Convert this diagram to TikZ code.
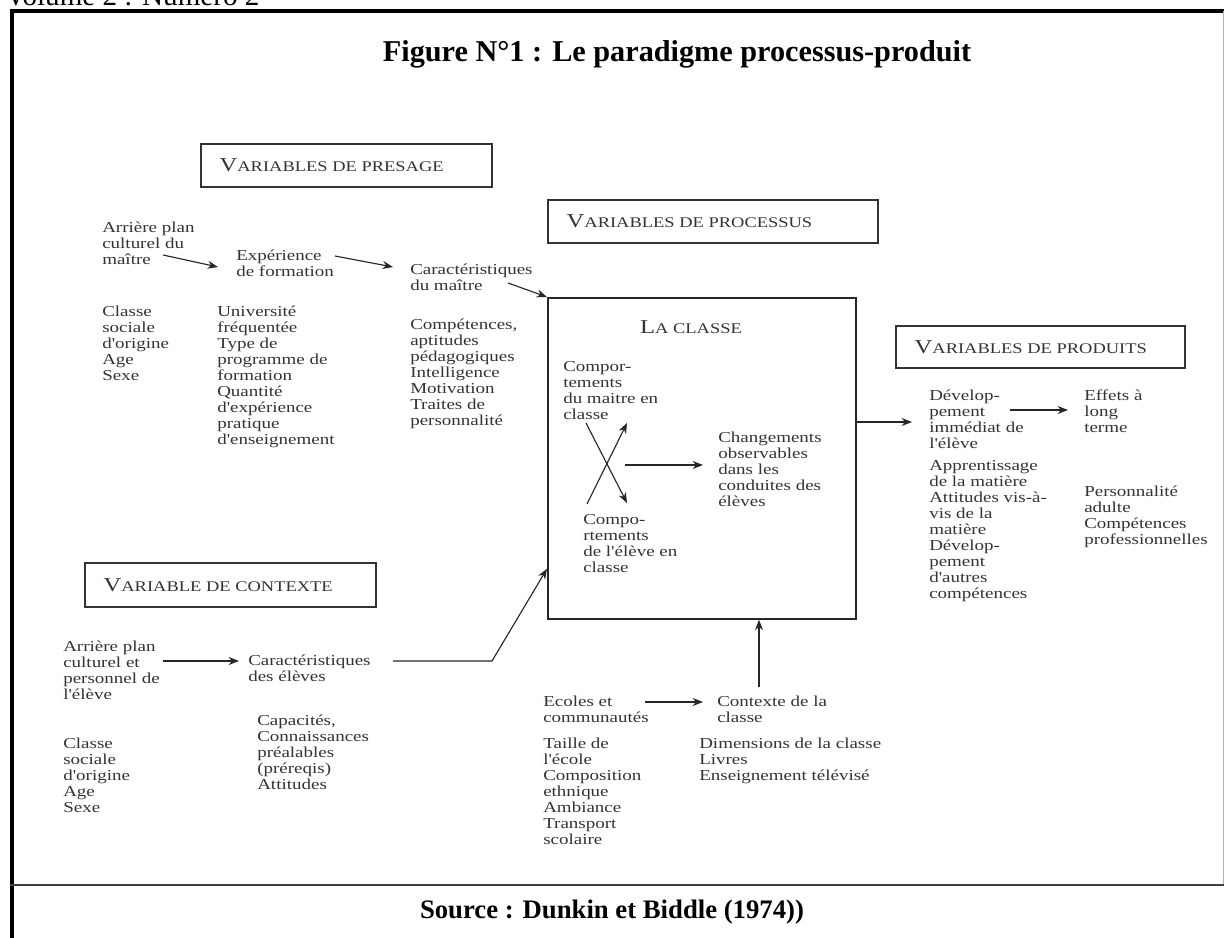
\documentclass[tikz,border=0pt]{standalone}
\usepackage{fontspec}
\setmainfont{Liberation Serif}
\newfontfamily\diagfont{Liberation Serif}[FakeStretch=1.25]
\usetikzlibrary{arrows.meta}
\newcommand{\bigsc}[2]{{\fontsize{14}{14}\selectfont #1}{\fontsize{10.5}{12}\selectfont #2}}

\begin{document}
\begin{tikzpicture}[x=0.025cm, y=-0.025cm,
  txt/.style={anchor=north west, align=left, inner sep=0pt, text=black!80,
    font=\diagfont\fontsize{10.8}{11.38}\selectfont},
  varbox/.style={draw=black!80, line width=1.2pt, anchor=north west, inner xsep=0.47cm,
    inner ysep=0pt, align=left, text=black!80, font=\diagfont},
  arr/.style={-{Stealth[length=2.6mm,width=2mm]}, line width=0.8pt, black!85}]
\useasboundingbox (0,0) rectangle (1224,938);
\clip (0,0) rectangle (1224,938);

\node[anchor=base west, inner sep=0pt] (volume) at (5,6) {\fontsize{20.7}{24}\selectfont Volume 2 : Numéro 2};
\draw[line width=2.2pt] (12,945) -- (12,11) -- (1230,11);
\draw[line width=0.4pt, black!30] (1223,11) -- (1223,885);
\draw[line width=1pt, black!75] (10,885) -- (1230,885);

\node (titre) at (677,54) {\fontsize{21.5}{24}\selectfont\bfseries Figure N°1 : Le paradigme processus-produit};
\node (source) at (612,912) {\fontsize{19}{22}\selectfont\bfseries Source : Dunkin et Biddle (1974))};

\foreach \nm/\px/\py/\w/\h/\first/\rest in {presage/200/143/6.335/1.075/V/ARIABLES DE PRESAGE,
    processus/547/199/7.31/1.075/V/ARIABLES DE PROCESSUS,
    produits/895/325/6.285/1.05/V/ARIABLES DE PRODUITS,
    contexte/84/562/6.335/1.1/V/ARIABLE DE CONTEXTE} {%
    \node[varbox, text width=\w cm, minimum height=\h cm] (\nm) at (\px,\py) {\bigsc{\first}{\rest}};
}

\node[draw=black!85, line width=1.2pt, anchor=north west, minimum width=7.7cm,
  minimum height=8.025cm, inner sep=0pt] (classe) at (547,297) {};
\node[inner sep=0pt, text=black!80, font=\diagfont] (lacl) at (691,327) {\bigsc{L}{A CLASSE}};

\node[txt] (apm) at (102,222) {Arrière plan\\culturel du\\maître};
\node[txt] (expf) at (236,250) {Expérience\\de formation};
\node[txt] (carm) at (410,264) {Caractéristiques\\du maître};
\node[txt] (clsm) at (102,306) {Classe\\sociale\\d'origine\\Age\\Sexe};
\node[txt] (univ) at (217,306) {Université\\fréquentée\\Type de\\programme de\\formation\\Quantité\\d'expérience\\pratique\\d'enseignement};
\node[txt] (comp) at (410,319) {Compétences,\\aptitudes\\pédagogiques\\Intelligence\\Motivation\\Traites de\\personnalité};

\node[txt] (cmai) at (563,361) {Compor-\\tements\\du maitre en\\classe};
\node[txt] (celv) at (583,514) {Compo-\\rtements\\de l'élève en\\classe};
\node[txt] (chg) at (718,432) {Changements\\observables\\dans les\\conduites des\\élèves};

\node[txt] (dev) at (929,390) {Dévelop-\\pement\\immédiat de\\l'élève};
\node[txt] (eff) at (1084,390) {Effets à\\long\\terme};
\node[txt] (appr) at (929,460) {Apprentissage\\de la matière\\Attitudes vis-à-\\vis de la\\matière\\Dévelop-\\pement\\d'autres\\compétences};
\node[txt] (pers) at (1084,486) {Personnalité\\adulte\\Compétences\\professionnelles};

\node[txt] (ape) at (63,641) {Arrière plan\\culturel et\\personnel de\\l'élève};
\node[txt] (care) at (248,655) {Caractéristiques\\des élèves};
\node[txt] (clse) at (63,738) {Classe\\sociale\\d'origine\\Age\\Sexe};
\node[txt] (capa) at (257,715) {Capacités,\\Connaissances\\préalables\\(préreqis)\\Attitudes};

\node[txt] (ecol) at (543,696) {Ecoles et\\communautés};
\node[txt] (ctx) at (717,696) {Contexte de la\\classe};
\node[txt] (taille) at (543,738) {Taille de\\l'école\\Composition\\ethnique\\Ambiance\\Transport\\scolaire};
\node[txt] (dims) at (699,738) {Dimensions de la classe\\Livres\\Enseignement télévisé};

\coordinate (ap1) at (163,255);
\coordinate (ex1) at (218,267);
\coordinate (ex2) at (335,256);
\coordinate (ca1) at (393,267);
\coordinate (ca2) at (508,283);
\coordinate (x1) at (586,423);
\coordinate (x2) at (627,503);
\coordinate (x3) at (587,504);
\coordinate (x4) at (627,423);
\coordinate (x5) at (625,465);
\coordinate (x6) at (703,465);
\coordinate (dv1) at (912,422);
\coordinate (dv2) at (1010,410);
\coordinate (ef1) at (1068,410);
\coordinate (pe1) at (163,661);
\coordinate (ce1) at (239,661);
\coordinate (ce2) at (393,661);
\coordinate (kink) at (492,661);
\coordinate (ec1) at (645,702);
\coordinate (cx1) at (703,702);
\coordinate (cx2) at (759,687);

\draw[arr] (ap1) -- (ex1);
\draw[arr] (ex2) -- (ca1);
\draw[arr] (ca2) -- (classe.north west);
\draw[arr] (x1) -- (x2);
\draw[arr] (x3) -- (x4);
\draw[arr] (x5) -- (x6);
\draw[arr] (classe.east |- dv1) -- (dv1);
\draw[arr] (dv2) -- (ef1);
\draw[arr] (pe1) -- (ce1);
\draw[arr] (ce2) -- (kink) -- ([yshift=1.275cm]classe.south west);
\draw[arr] (ec1) -- (cx1);
\draw[arr] (cx2) -- (cx2 |- classe.south);
\end{tikzpicture}
\end{document}
